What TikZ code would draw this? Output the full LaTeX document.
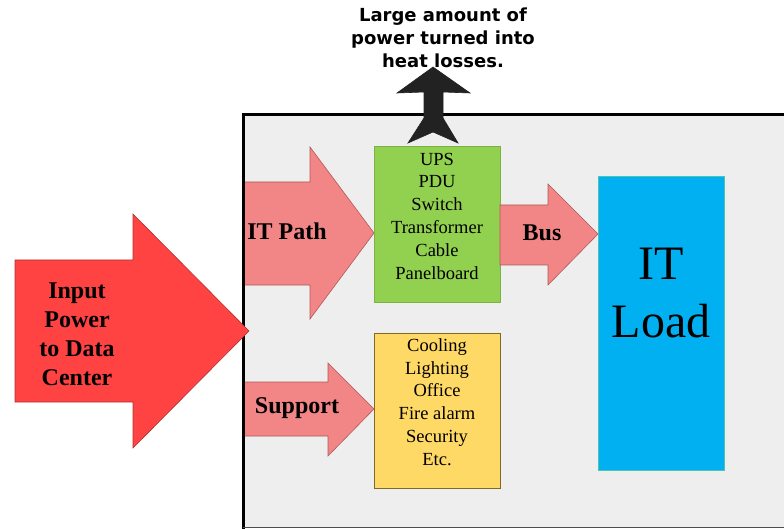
\documentclass[tikz,border=0pt]{standalone}
\usepackage{fontspec}
\setmainfont{Liberation Serif}
\newfontfamily\heatfont{DejaVu Sans}
\usepackage{tikz}
\usetikzlibrary{positioning}

\definecolor{roomgray}{HTML}{EEEEEE}
\definecolor{pathpink}{HTML}{F28585}
\definecolor{pinkline}{HTML}{B25A5A}
\definecolor{inputred}{HTML}{FF4343}
\definecolor{redline}{HTML}{B23030}
\definecolor{upsgreen}{HTML}{92D050}
\definecolor{supyellow}{HTML}{FFD966}
\definecolor{yellowline}{HTML}{7F6A2A}
\definecolor{loadblue}{HTML}{00B0F0}
\definecolor{blueline}{HTML}{4CC4B4}
\definecolor{heatblack}{HTML}{222222}

\begin{document}
\begin{tikzpicture}[x=1bp,y=-1bp,
  pinkarrow/.style={fill=pathpink,draw=pinkline,line width=0.6bp},
  redarrow/.style={fill=inputred,draw=redline,line width=0.6bp},
  heatarrow/.style={fill=heatblack,draw=heatblack,line width=0.6bp},
  box/.style={rectangle,inner sep=0pt,line width=0.7bp},
  label/.style={inner sep=0pt,align=center,font=\bfseries\fontsize{24bp}{29bp}\selectfont},
  list/.style={inner sep=0pt,align=center,font=\fontsize{18.5bp}{22.8bp}\selectfont}]
\useasboundingbox (0,0) rectangle (784,529);

% room
\fill[roomgray] (243,115) rectangle (790,527);

% IT path and support arrows
\draw[pinkarrow] (243,182) -- (310,182) -- (310,147) -- (374,233) -- (310,319) -- (310,285) -- (243,285) -- cycle;
\draw[pinkarrow] (243,382) -- (328,382) -- (328,363) -- (374,409) -- (328,456) -- (328,436) -- (243,436) -- cycle;

% room border
\draw[line width=3bp] (243,529) -- (243,115) -- (790,115);
\draw[line width=1bp,black!70] (243,527) -- (790,527);

% input power
\draw[redarrow] (15,260) -- (133,260) -- (133,214) -- (249,331) -- (133,448) -- (133,402) -- (15,402) -- cycle;

% boxes
\node[box,fill=upsgreen,draw=upsgreen!85!black,minimum width=126bp,minimum height=156bp] (ups) at (437,224) {};
\node[box,fill=supyellow,draw=yellowline,minimum width=126bp,minimum height=155bp] (support) at (437,410.5) {};
\node[box,fill=loadblue,draw=blueline,minimum width=126bp,minimum height=294bp] (load) at (661,323) {};

% bus
\draw[pinkarrow] (500,205) -- (548,205) -- (548,184) -- (598,234) -- (548,285) -- (548,265) -- (500,265) -- cycle;

% heat losses
\draw[heatarrow] (433,67) -- (470,93) -- (443,92) -- (443,118) -- (458,143) -- (433,132) -- (408,143) -- (424,118) -- (424,92) -- (397,93) -- cycle;

% texts
\node[label] (inputtext) at (77,334) {Input\\Power\\to Data\\Center};
\node[label] (pathtext) at (287,231) {IT Path};
\node[label] (bustext) at (542,233) {Bus};
\node[label] (supporttext) at (297,408) {Support};
\node[list] (upslist) at (437,216) {UPS\\PDU\\Switch\\Transformer\\Cable\\Panelboard};
\node[list] (supportlist) at (437,402) {Cooling\\Lighting\\Office\\Fire alarm\\Security\\Etc.};
\node[inner sep=0pt,align=center,font=\fontsize{48bp}{58bp}\selectfont] (loadtext) at (661,293) {IT\\Load};
\node[inner sep=0pt,align=center,font=\heatfont\bfseries\fontsize{18bp}{23bp}\selectfont] (heattext) at (443,38) {Large amount of\\power turned into\\heat losses.};
\end{tikzpicture}
\end{document}
